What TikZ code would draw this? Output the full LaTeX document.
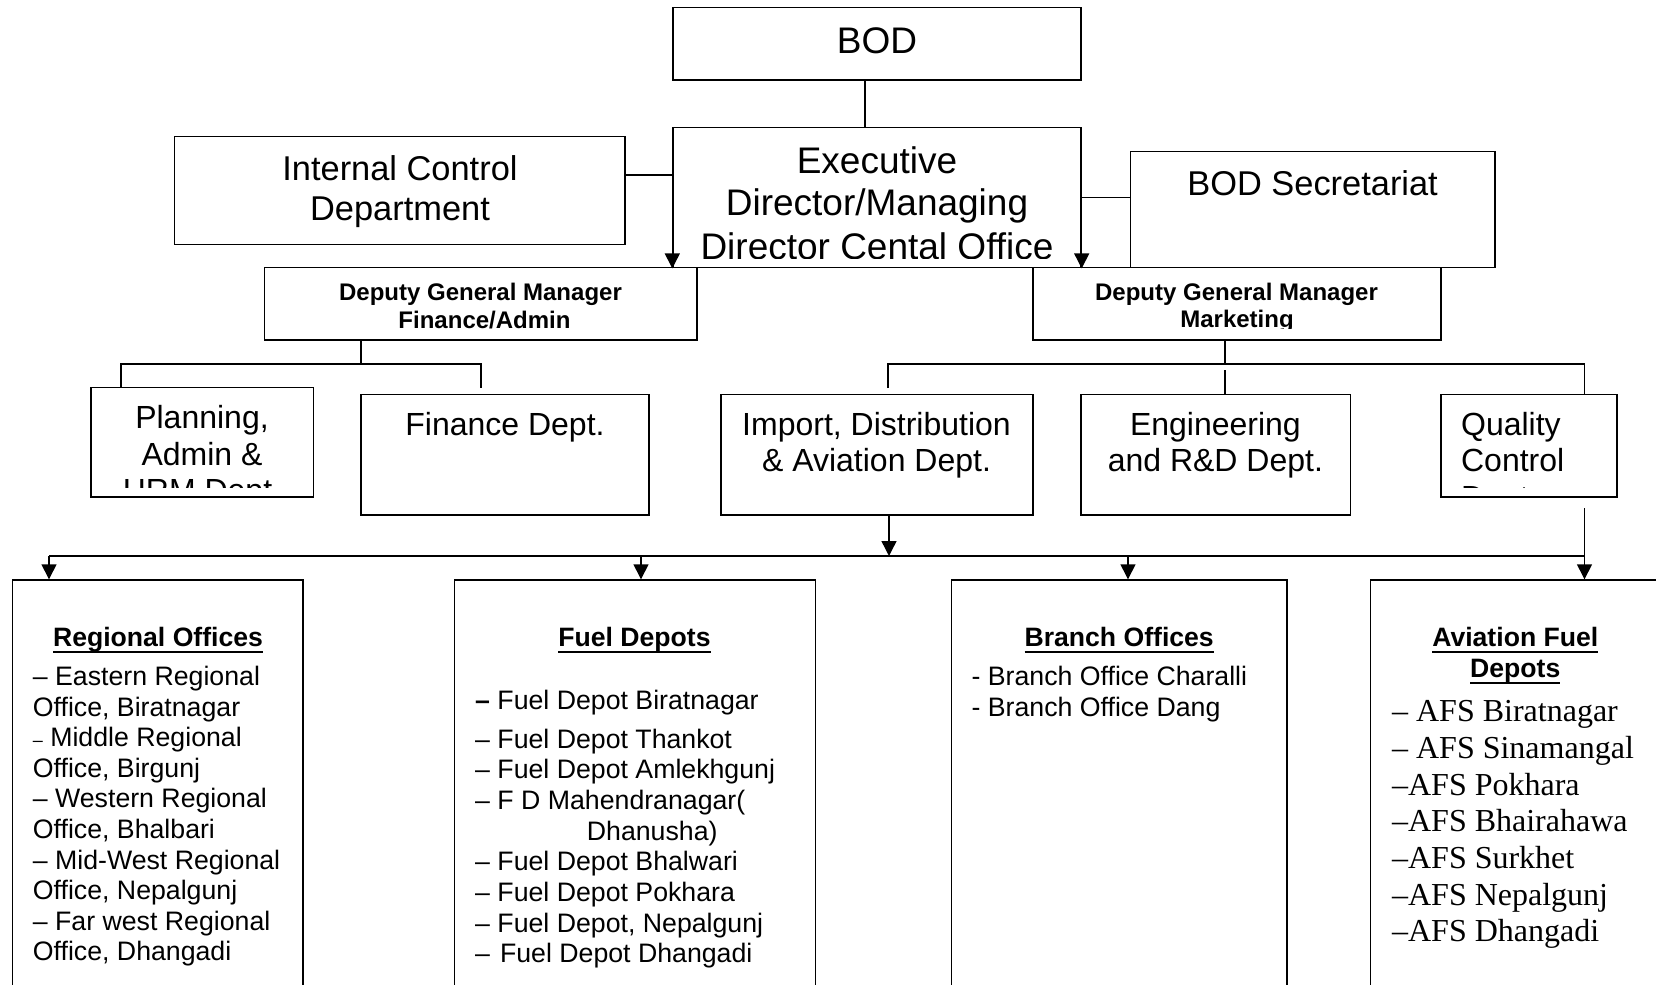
\documentclass[tikz,border=0pt]{standalone}
\usepackage{fontspec}
\setmainfont{Liberation Sans}
\newfontfamily\afsfont{Liberation Serif}
\usetikzlibrary{fit,arrows.meta}

\newcommand{\hdul}[1]{\leavevmode\setbox0\hbox{#1}\rlap{\rule[-3.3pt]{\wd0}{1.15pt}}\box0}
\newcommand{\thindash}{{\fontsize{9}{9}\selectfont –}}

\tikzset{ncbox/.style={draw,line width=0.7pt,inner sep=0pt,fill=white},
         nclink/.style={line width=0.7pt},
         ncarr/.style={line width=0.7pt,-{Triangle[width=7.5pt,length=7.5pt]}},
         nctxt/.style={inner sep=0pt,anchor=base},
         ncbig/.style={nctxt,font=\fontsize{18.5}{21}\selectfont},
         ncmid/.style={nctxt,font=\fontsize{17.2}{20}\selectfont},
         ncdept/.style={nctxt,font=\fontsize{16}{18}\selectfont},
         ncdgm/.style={nctxt,font=\bfseries\fontsize{12}{14}\selectfont},
         nchead/.style={nctxt,font=\bfseries\fontsize{13.3}{15}\selectfont},
         ncitem/.style={nctxt,anchor=base west,font=\fontsize{13.35}{15}\selectfont},
         ncafs/.style={nctxt,anchor=base west,font=\afsfont\fontsize{16}{18}\selectfont}}

\begin{document}
\begin{tikzpicture}[x=0.5pt, y=-0.5pt]
  \useasboundingbox (0,0) rectangle (1656,985);
  \clip (0,0) rectangle (1656,985);
  % top levels
  \node[ncbox, fit={(673,7.3) (1081,80)}] (bod) {};
  \node[ncbox, fit={(673,127.7) (1081,267.7)}] (exec) {};
  \node[ncbox, fit={(174.7,136.7) (625.1,244.3)}] (ic) {};
  \node[ncbox, fit={(1130.3,151.7) (1494.8,267.7)}] (bodsec) {};
  \node[ncbox, fit={(264.7,267.7) (697.1,340)}] (dgmfa) {};
  \node[ncbox, fit={(1032.8,267.7) (1441,340)}] (dgmmk) {};
  \node[ncbig] (bodT) at (877,53.3) {BOD};
  \begin{scope}
    \clip (673,127.7) rectangle (1081,258.5);
    \foreach \t/\y [count=\i] in {Executive/173.3, {Director/Managing}/215.8, Director Cental Office/259.5}
      \node[ncbig] (execT\i) at (877,\y) {\t};
  \end{scope}
  \node[ncmid] (icT1) at (400,180) {Internal Control};
  \node[ncmid] (icT2) at (400,220) {Department};
  \node[ncmid] (bodsecT) at (1312.6,195) {BOD Secretariat};
  \node[ncdgm] (dgmfaT1) at (480.5,300) {Deputy General Manager};
  \node[ncdgm] (dgmfaT2) at (484.5,328.3) {Finance/Admin};
  \begin{scope}
    \clip (1032.8,267.7) rectangle (1441,328.5);
    \node[ncdgm] (dgmmkT1) at (1236.5,300) {Deputy General Manager};
    \node[ncdgm] (dgmmkT2) at (1237,327) {Marketing};
  \end{scope}
  % departments
  \node[ncbox, fit={(91,387.7) (313.4,497)}] (plan) {};
  \node[ncbox, fit={(361,394.3) (649,515)}] (fin) {};
  \node[ncbox, fit={(721,394.3) (1032.8,515)}] (imp) {};
  \node[ncbox, fit={(1080.8,394.3) (1350.5,515)}] (eng) {};
  \node[ncbox, fit={(1441,394.3) (1617,497)}] (qc) {};
  \begin{scope}
    \clip (91,387.7) rectangle (313.4,487.3);
    \foreach \t/\y [count=\i] in {{Planning,}/428.3, Admin \&/465, HRM Dept./501.7}
      \node[ncdept] (planT\i) at (202,\y) {\t};
  \end{scope}
  \node[ncdept] (finT) at (505,435) {Finance Dept.};
  \node[ncdept] (impT1) at (876.5,435) {Import, Distribution};
  \node[ncdept] (impT2) at (876.5,471.7) {\& Aviation Dept.};
  \node[ncdept] (engT1) at (1215.4,435) {Engineering};
  \node[ncdept] (engT2) at (1215.4,471.7) {and R\&D Dept.};
  \begin{scope}
    \clip (1441,394.3) rectangle (1617,487.5);
    \foreach \t/\y [count=\i] in {Quality/435, Control/471.7, Dept./508.4}
      \node[ncdept, anchor=base west] (qcT\i) at (1460.7,\y) {\t};
  \end{scope}
  % offices
  \node[ncbox, fit={(12.7,580) (302.8,1000)}] (ro) {};
  \node[ncbox, fit={(454.7,580) (815.2,1000)}] (fd) {};
  \node[ncbox, fit={(951.2,580) (1286.8,1000)}] (bo) {};
  \node[ncbox, fit={(1370.6,580) (1670,1000)}] (af) {};
  \node[nchead] (roH) at (158,646.7) {\hdul{Regional Offices}};
  \node[nchead] (fdH) at (634.5,646.7) {\hdul{Fuel Depots}};
  \node[nchead] (boH) at (1119.2,646.7) {\hdul{Branch Offices}};
  \node[nchead] (afH1) at (1515.3,646.7) {\hdul{Aviation Fuel}};
  \node[nchead] (afH2) at (1515.3,677.5) {\hdul{Depots}};
  \foreach \t [count=\i] in {– Eastern Regional, {Office, Biratnagar}, \thindash{} Middle Regional,
      {Office, Birgunj}, – Western Regional, {Office, Bhalbari}, – Mid-West Regional,
      {Office, Nepalgunj}, – Far west Regional, {Office, Dhangadi}}
    \node[ncitem] (roT\i) at (32.5,{685.7+30.55*(\i-1)}) {\t};
  \node[ncitem] (fdT0) at (474.8,709) {\textbf{–} Fuel Depot Biratnagar};
  \foreach \t [count=\i] in {– Fuel Depot Thankot, – Fuel Depot Amlekhgunj, – F D Mahendranagar(,
      {}, – Fuel Depot Bhalwari, – Fuel Depot Pokhara, {– Fuel Depot, Nepalgunj}, –\hspace{1.3pt} Fuel Depot Dhangadi}
    \node[ncitem] (fdT\i) at (474.8,{748+30.7*(\i-1)}) {\t};
  \node[ncitem] (fdTx) at (586.5,840.1) {Dhanusha)};
  \node[ncitem] (boT1) at (971.2,685.7) {- Branch Office Charalli};
  \node[ncitem] (boT2) at (971.2,716.3) {- Branch Office Dang};
  \foreach \t [count=\i] in {– AFS Biratnagar, – AFS Sinamangal, –AFS Pokhara, –AFS Bhairahawa,
      –AFS Surkhet, –AFS Nepalgunj, –AFS Dhangadi}
    \node[ncafs] (afT\i) at (1391.7,{721.7+36.67*(\i-1)}) {\t};
  % connectors, top part
  \draw[nclink] ([xshift=-6pt]bod.south) -- ([xshift=-6pt]exec.north);
  \path (ic.east) ++(0,-15.5) coordinate (icj);
  \draw[nclink] (icj) -- (icj -| exec.west);
  \draw[nclink] (exec.east) -- (exec.east -| bodsec.west);
  \draw[ncarr] (exec.west) -- (exec.south west);
  \draw[ncarr] (exec.east) -- (exec.south east);
  % finance/admin branch
  \coordinate (faJ) at (361,364);
  \coordinate (faL) at (121,364);
  \coordinate (faR) at (481,364);
  \draw[nclink] (dgmfa.south -| faJ) -- (faJ);
  \draw[nclink] (plan.north -| faL) -- (faL) -- (faR) -- ++(0,24);
  % marketing branch
  \coordinate (mkJ) at (1225,364);
  \coordinate (mkL) at (888,364);
  \coordinate (mkR) at (1584.5,364);
  \draw[nclink] (dgmmk.south -| mkJ) -- (mkJ);
  \draw[nclink] (mkL) ++(0,24) -- (mkL) -- (mkR) -- (mkR |- qc.north);
  \draw[nclink] (mkJ) ++(0,6) -- (mkJ |- eng.north);
  % offices bus
  \coordinate (idJ) at (889,556);
  \draw[ncarr] (imp.south -| idJ) -- (idJ);
  \foreach \n/\x in {ro/49, fd/641, bo/1128, af/1584.5} \coordinate (bus\n) at (\x,556);
  \draw[nclink] (busro) -- (busaf);
  \foreach \n in {ro,fd,bo,af} \draw[ncarr] (bus\n) -- (bus\n |- \n.north);
  \draw[nclink] (qc.south -| busaf) ++(0,10.7) -- (busaf);
\end{tikzpicture}
\end{document}
